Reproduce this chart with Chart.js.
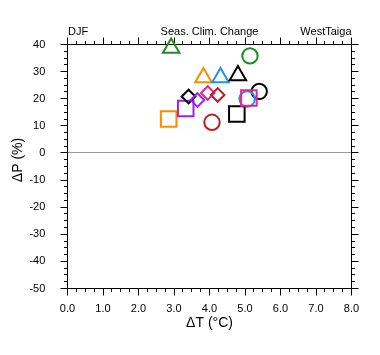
<!DOCTYPE html>
<html><head><meta charset="utf-8">
<script src="https://cdn.jsdelivr.net/npm/chart.js@4.4.1/dist/chart.umd.min.js"></script>
<style>html,body{margin:0;padding:0;background:#fff;overflow:hidden}</style>
</head><body>
<canvas id="c" width="380" height="355" style="width:380px;height:355px;display:block"></canvas>
<script>
// ---- data (ΔT in °C, ΔP in %) ----
const triangleT = [2.92, 3.83, 4.31, 4.80];
const triangleP = [38.7, 27.8, 27.8, 28.6];
const diamondT  = [3.41, 3.66, 3.95, 4.23];
const diamondP  = [20.8, 19.5, 22.1, 21.4];
const squareT   = [2.85, 3.33, 4.77, 5.11];
const squareP   = [12.5, 16.4, 14.4, 20.3];
const circleT   = [5.14, 5.40, 5.06, 4.07];
const circleP   = [35.8, 22.7, 19.9, 11.3];

const xMin = 0, xMax = 8, xStep = 1;
const yMin = -50, yMax = 40, yStep = 10;
const titleLeft = 'DJF', titleCenter = 'Seas. Clim. Change', titleRight = 'WestTaiga';
const xTitle = '\u0394T (\u00B0C)', yTitle = '\u0394P (%)';

// ---- styles ----
const triangleColors = ['#228B22', '#FF8C00', '#1E90FF', '#000000'];
const diamondColors  = ['#000000', '#A020F0', '#E8258F', '#B22222'];
const squareColors   = ['#FF8C00', '#A020F0', '#000000', '#E8258F'];
const circleColors   = ['#228B22', '#000000', '#1E90FF', '#B22222'];
const FONT = '"Liberation Sans", Arial, Helvetica, sans-serif';

function pts(xs, ys) { return xs.map((x, i) => ({x: x, y: ys[i]})); }
function ds(label, xs, ys, colors, style, r) {
  return {
    label: label, data: pts(xs, ys), showLine: false, clip: false,
    pointStyle: style, pointRadius: r, pointHoverRadius: r,
    pointBorderColor: colors, pointBackgroundColor: 'rgba(0,0,0,0)',
    pointBorderWidth: 2, pointHoverBorderWidth: 2
  };
}

const frame = {
  id: 'frame',
  beforeDatasetsDraw(chart) {
    const ctx = chart.ctx, a = chart.chartArea;
    const xs = chart.scales.x, ys = chart.scales.y;
    const snap = v => Math.round(v - 0.5) + 0.5;
    ctx.save();
    const y0 = snap(ys.getPixelForValue(0));
    ctx.strokeStyle = '#9a9a9a'; ctx.lineWidth = 1;
    ctx.beginPath(); ctx.moveTo(a.left, y0); ctx.lineTo(a.right, y0); ctx.stroke();
    ctx.strokeStyle = '#000';
    ctx.beginPath();
    ctx.rect(snap(a.left), snap(a.top), snap(a.right) - snap(a.left), snap(a.bottom) - snap(a.top));
    ctx.stroke();
    ctx.beginPath();
    const L = snap(a.left), R = snap(a.right), T = snap(a.top), B = snap(a.bottom);
    for (let v = xMin; v <= xMax + 1e-9; v += 0.25) {
      const major = Math.abs(v - Math.round(v)) < 1e-6;
      const len = major ? 7 : 3.5;
      const px = snap(xs.getPixelForValue(v));
      ctx.moveTo(px, B); ctx.lineTo(px, B + len);
      ctx.moveTo(px, T); ctx.lineTo(px, T - len);
    }
    for (let v = yMin; v <= yMax + 1e-9; v += 2.5) {
      const major = Math.abs(v / 10 - Math.round(v / 10)) < 1e-6;
      const len = major ? 7 : 3.5;
      const py = snap(ys.getPixelForValue(v));
      ctx.moveTo(L, py); ctx.lineTo(L - len, py);
      ctx.moveTo(R, py); ctx.lineTo(R + len, py);
    }
    ctx.stroke();
    ctx.restore();
  },
  afterDraw(chart) {
    const ctx = chart.ctx, a = chart.chartArea;
    ctx.save();
    ctx.fillStyle = '#000';
    ctx.textBaseline = 'middle';
    ctx.font = '11px ' + FONT;
    ctx.textAlign = 'left';  ctx.fillText(titleLeft, a.left + 0.5, 32);
    ctx.textAlign = 'center'; ctx.fillText(titleCenter, (a.left + a.right) / 2, 32);
    ctx.textAlign = 'right'; ctx.fillText(titleRight, a.right, 32);
    ctx.font = '14px ' + FONT;
    ctx.textAlign = 'center';
    ctx.fillText(xTitle, (a.left + a.right) / 2, 323);
    ctx.translate(18.5, 160);
    ctx.rotate(-Math.PI / 2);
    ctx.fillText(yTitle, 0, 0);
    ctx.restore();
  }
};

new Chart(document.getElementById('c'), {
  type: 'scatter',
  data: {
    datasets: [
      ds('triangles', triangleT, triangleP, triangleColors, 'triangle', 9.5),
      ds('diamonds', diamondT, diamondP, diamondColors, 'rectRot', 6.8),
      ds('squares', squareT, squareP, squareColors, 'rect', 11),
      ds('circles', circleT, circleP, circleColors, 'circle', 7.7)
    ]
  },
  options: {
    responsive: false, animation: false, devicePixelRatio: 1,
    layout: { padding: { left: 0, top: 44.5, right: 28.5, bottom: 0 } },
    plugins: { legend: { display: false }, tooltip: { enabled: false }, title: { display: false } },
    events: [],
    scales: {
      x: {
        type: 'linear', min: xMin, max: xMax, position: 'bottom',
        grid: { display: false }, border: { display: false },
        ticks: { stepSize: xStep, padding: 6, color: '#000', maxRotation: 0,
                 font: { size: 11, family: FONT }, callback: v => Number(v).toFixed(1) },
        afterFit: s => { s.height = 66.5; }
      },
      y: {
        type: 'linear', min: yMin, max: yMax, position: 'left',
        grid: { display: false }, border: { display: false },
        ticks: { stepSize: yStep, padding: 14.2, color: '#000',
                 font: { size: 11, family: FONT }, callback: v => String(v) },
        afterFit: s => { s.height; s.width = 67.5; }
      }
    }
  },
  plugins: [frame]
});
</script>
</body></html>
